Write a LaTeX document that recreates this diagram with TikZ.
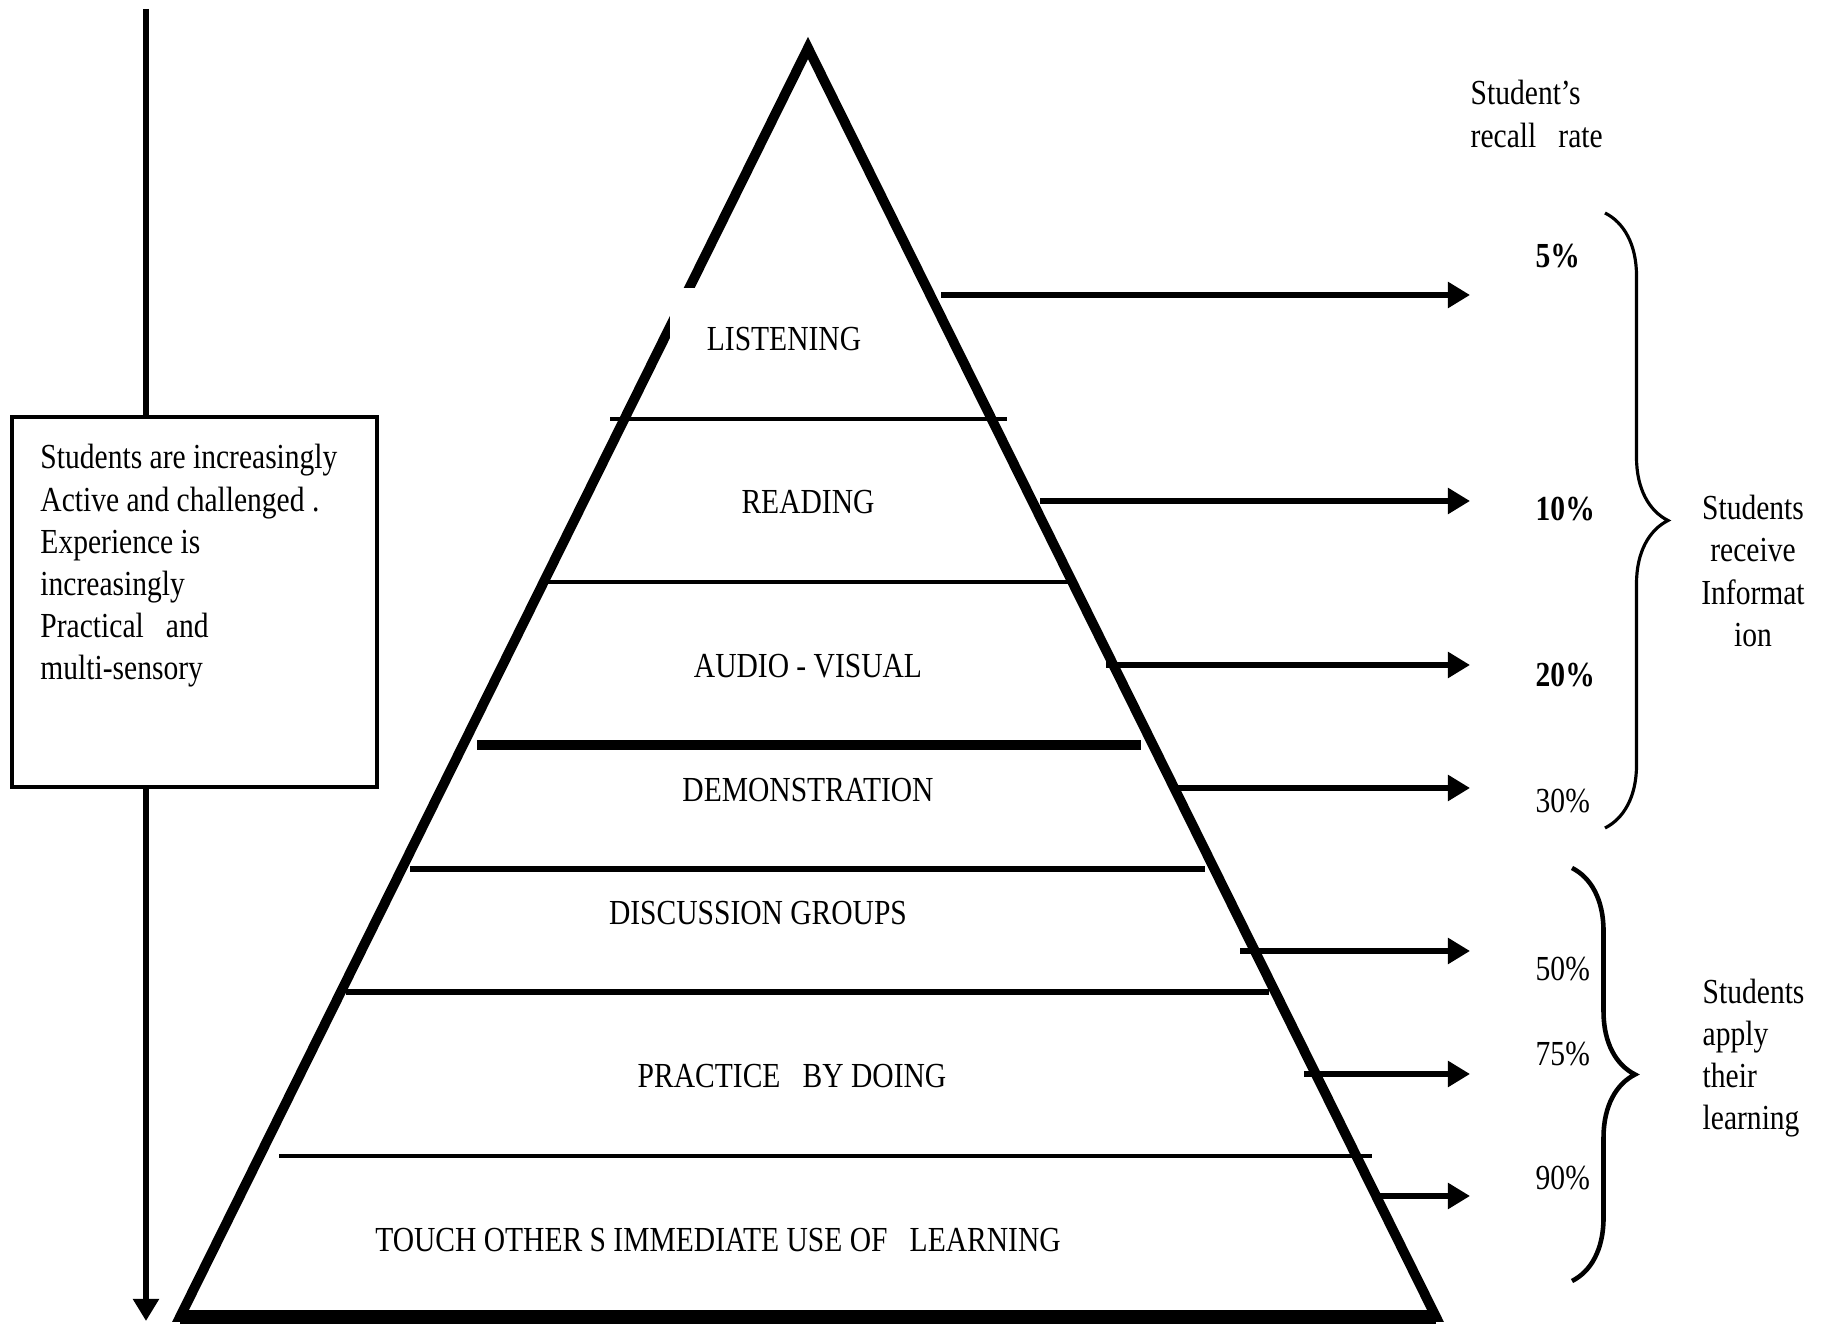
\documentclass[tikz,border=0pt]{standalone}
\usepackage{fontspec}
\setmainfont{Liberation Serif}[FakeStretch=0.84]
\usepackage{tikz}
\usetikzlibrary{arrows.meta,positioning,calc,decorations.pathreplacing}

\begin{document}
\begin{tikzpicture}[
    x=0.01cm, y=-0.01cm,
    txt/.style={inner sep=0pt, font=\fontsize{10pt}{12pt}\selectfont},
    pct/.style={txt, anchor=west},
    pyr/.style={line width=2.8pt, line join=miter},
    layer/.style={line width=0.9pt},
    arrow/.style={-{Triangle[length=0.22cm,width=0.25cm]}, line width=1.5pt},
    infobox/.style={draw, line width=1.2pt, minimum width=3.65cm, minimum height=3.7cm},
    curly/.style={decorate, decoration={brace, amplitude=0.63cm}}
]
    \useasboundingbox (0,0) rectangle (1826,1325);

    % Pyramide
    \coordinate (apex) at (808,48);
    \coordinate (baseL) at (180,1317);
    \coordinate (baseR) at (1436,1317);
    \draw[pyr] (apex) -- (baseR) -- (baseL) -- cycle;
    \draw[line width=4.2pt] (baseL) -- (baseR);
    \fill[white] (670,288) rectangle (760,360);

    % Separations
    \draw[layer] (610,419) -- (1007,419);
    \draw[layer] (547,582) -- (1069,582);
    \draw[line width=2.8pt] (477,745) -- (1141,745);
    \draw[line width=1.7pt] (410,869) -- (1205,869);
    \draw[line width=1.7pt] (346,992) -- (1269,992);
    \draw[layer] (279,1156) -- (1372,1156);

    % Niveaux
    \node[txt] (listen) at (784,339) {LISTENING};
    \node[txt] (read) at (808,502) {READING};
    \node[txt] (av) at (808,666) {AUDIO - VISUAL};
    \node[txt] (demo) at (808,790) {DEMONSTRATION};
    \node[txt] (disc) at (758,913) {DISCUSSION GROUPS};
    \node[txt] (practice) at (792,1076) {PRACTICE\ \ \ BY DOING};
    \node[txt] (touch) at (718,1240) {TOUCH OTHER S IMMEDIATE USE OF\ \ \ LEARNING};

    % Encadre gauche
    \node[infobox] (box) at (194.5,602) {};
    \node[txt, anchor=north west, align=left] (boxtext) at ([shift={(30,29)}]box.north west)
        {Students are increasingly\\Active and challenged .\\Experience is\\increasingly\\Practical\ \ \ and\\multi-sensory};
    \coordinate (top) at (146,9);
    \coordinate (bottom) at (146,1321);
    \draw[line width=1.5pt] (top) -- (top |- box.north);
    \draw[arrow] (top |- box.south) -- (bottom);

    % Fleches vers les taux
    \foreach \i/\y/\xs in {1/295/941, 2/501/1040, 3/665/1106, 4/788/1176, 5/951/1240, 6/1074/1304, 7/1196/1380} {
        \coordinate (from\i) at (\xs,\y);
        \coordinate (to\i) at (1470,\y);
        \draw[arrow] (from\i) -- (to\i);
    }

    % Taux
    \node[txt, anchor=west, align=left] (title) at (1470,114) {Student’s\\recall\ \ \ rate};
    \foreach \i/\y/\t in {1/256/{\textbf{5\%}}, 2/509/{\textbf{10\%}}, 3/675/{\textbf{20\%}}, 4/801/30\%, 5/969/50\%, 6/1054/75\%, 7/1178/90\%} {
        \node[pct] (pct\i) at (1535,\y) {\t};
    }

    % Accolades
    \coordinate (recvTop) at (1605,213);
    \coordinate (recvBot) at (1605,828);
    \draw[curly, line width=0.9pt] (recvTop) -- (recvBot);
    \coordinate (applyTop) at (1572,868);
    \coordinate (applyBot) at (1572,1281);
    \draw[curly, line width=1.3pt] (applyTop) -- (applyBot);

    \node[txt, align=center] (receive) at (1753,571) {Students\\receive\\Informat\\ion};
    \node[txt, anchor=west, align=left] (apply) at (1702,1058) {Students\\apply\\their\\learning};
\end{tikzpicture}
\end{document}
